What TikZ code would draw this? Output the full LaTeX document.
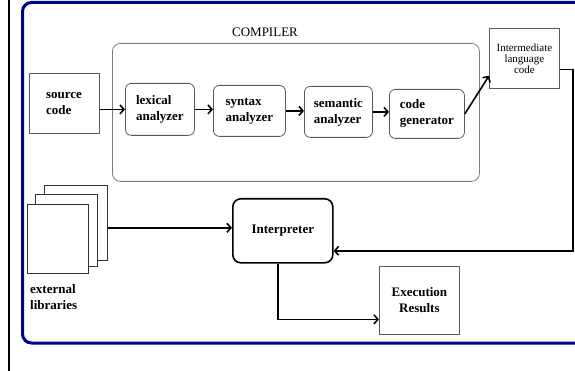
\documentclass[tikz,border=0pt]{standalone}
\usepackage{fontspec}
\setmainfont{Liberation Serif}[BoldFont={Liberation Serif Bold}]
\usetikzlibrary{arrows.meta,calc}
\definecolor{frameblue}{RGB}{0,0,140}
\definecolor{boxgray}{RGB}{90,90,90}
\begin{document}
\begin{tikzpicture}[x=1pt,y=-1pt,
  bfont/.style={font=\fontsize{13}{16}\selectfont\bfseries},
  proc/.style={draw=boxgray,line width=0.8pt,rounded corners=6pt,anchor=north west,bfont,align=left,inner sep=0pt},
  sqbox/.style={draw=boxgray,line width=0.8pt,anchor=north west,inner sep=0pt},
  page/.style={draw=black!80,line width=0.7pt,fill=white,anchor=north west,inner sep=0pt},
  conn/.style={line width=1.6pt,-{Straight Barb[length=4pt,width=9pt,line width=1.6pt]}},
  plain/.style={draw=none,inner sep=0pt}]
\useasboundingbox (0,0) rectangle (575,371);
\begin{scope}
\clip (0,0) rectangle (575,371);
\draw[black,line width=2pt] (9,0) -- (9,371);
\draw[frameblue,line width=3pt,rounded corners=9pt] (22.5,2.5) rectangle (600,343);
% compiler
\node[sqbox,rounded corners=8pt,minimum width=367pt,minimum height=138pt,draw=boxgray!80] (comp) at (112,43) {};
\node[plain,font=\fontsize{13}{15}\selectfont] (complabel) at (265,32) {COMPILER};
\node[sqbox,minimum width=70pt,minimum height=60pt,bfont,align=left] (sc) at (29,73) {source\\code\phantom{rc}};
\node[proc,minimum width=69pt,minimum height=52pt] (lx) at (125,83) {lexical\\analyzer};
\node[proc,minimum width=72pt,minimum height=51pt] (sy) at (213,85) {syntax\\analyzer};
\node[proc,minimum width=68pt,minimum height=51pt] (se) at (304,86) {semantic\\analyzer};
\node[proc,minimum width=75pt,minimum height=49pt] (cg) at (389,89) {code\\generator};
\node[sqbox,minimum width=70pt,minimum height=60pt,align=center,font=\fontsize{11}{11}\selectfont] (im) at (489,28) {Intermediate\\language\\code};
% interpreter
\node[draw=black,line width=1.6pt,rounded corners=8pt,anchor=north west,minimum width=100pt,minimum height=64pt,bfont,inner sep=0pt] (ip) at (232,198) {Interpreter};
\node[sqbox,minimum width=80pt,minimum height=68pt,bfont,align=center] (er) at (379,266) {Execution\\Results};
% pages
\node[page,minimum width=63pt,minimum height=75pt] (pg1) at (44,185) {};
\node[page,minimum width=62pt,minimum height=72pt] (pg2) at (35,194) {};
\node[page,minimum width=61pt,minimum height=69pt] (pg3) at (27,204) {};
\node[plain,anchor=north west,bfont,align=left] (extlib) at (30,284) {external\\libraries};
% connectors
\draw[conn] (sc.east |- lx.west) -- (lx.west);
\draw[conn] (lx.east) -- (lx.east -| sy.west);
\draw[conn] (sy.east) -- (sy.east -| se.west);
\draw[conn] (se.east) -- (se.east -| cg.west);
\draw[conn] (cg.east) -- ([yshift=13pt]im.south west);
\draw[conn] ([yshift=-11pt]im.east) -- ++(13,0) |- ([yshift=-20pt]ip.east);
\coordinate (libout) at ([yshift=3pt]ip.west);
\draw[conn] (pg1.east |- libout) -- (libout);
\draw[conn] ([xshift=-5pt]ip.south) |- ([yshift=-19pt]er.west);
\end{scope}
\end{tikzpicture}
\end{document}
